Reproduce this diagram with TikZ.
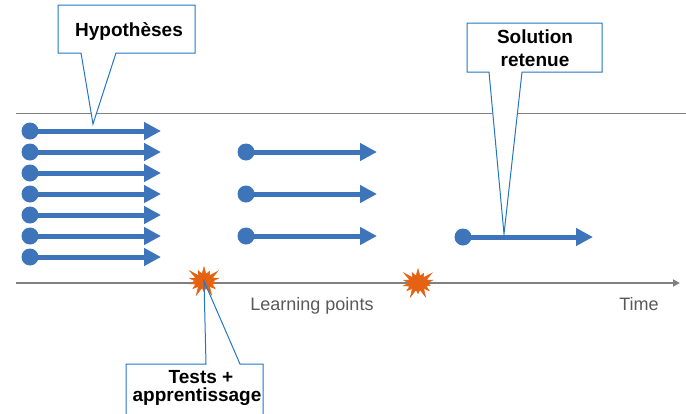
\documentclass[tikz,border=0pt]{standalone}
\usepackage{fontspec}
\setmainfont{Liberation Sans}
\usetikzlibrary{arrows.meta,shapes.symbols}
\definecolor{arrowblue}{RGB}{62,116,186}
\definecolor{callblue}{RGB}{36,118,196}
\definecolor{axisgray}{RGB}{128,128,128}
\definecolor{txtgray}{RGB}{89,89,89}
\definecolor{burst}{RGB}{228,98,18}
\begin{document}
\begin{tikzpicture}[x=1pt,y=-1pt,
  hyp/.style={line width=5pt, arrowblue, -{Triangle[length=17pt,width=17pt]}},
  dotnode/.style={circle, fill=arrowblue, minimum size=17pt, inner sep=0pt},
  calltext/.style={font=\fontsize{19}{23}\selectfont\bfseries, inner sep=0pt, anchor=base},
  callfill/.style={fill=white},
  callline/.style={draw=callblue, line width=1pt, line join=miter},
  burstnode/.style={starburst, fill=burst, draw=burst, line width=0.5pt, minimum width=38pt, minimum height=34pt, starburst points=14, starburst point height=10pt, inner sep=0pt},
  axisline/.style={axisgray, line width=2pt, -{Triangle[length=7pt,width=7pt]}},
  topline/.style={axisgray, line width=1pt},
  graytext/.style={font=\fontsize{18}{22}\selectfont, text=txtgray, inner sep=0pt, anchor=base}
]
\useasboundingbox (0,0) rectangle (686,413);
\clip (0,0) rectangle (686,413);

% top separator line
\coordinate (tl0) at (16,113);
\coordinate (tl1) at (686,113);
\draw[topline] (tl0) -- (tl1);

% time axis
\coordinate (ax0) at (16,283);
\coordinate (ax1) at (680,283);
\draw[axisline] (ax0) -- (ax1);

% column 1 hypotheses
\foreach \yy [count=\i] in {131,152,173,194,215,236,257} {
  \node[dotnode] (a\i) at (30,\yy) {};
  \coordinate (at\i) at (161,\yy);
  \draw[hyp] (a\i.center) -- (at\i);
}
% column 2
\foreach \yy [count=\i] in {152,194,236} {
  \node[dotnode] (b\i) at (246,\yy) {};
  \coordinate (bt\i) at (377,\yy);
  \draw[hyp] (b\i.center) -- (bt\i);
}
% column 3
\node[dotnode] (c1) at (463,237) {};
\coordinate (ct1) at (593,237);
\draw[hyp] (c1.center) -- (ct1);

% callout Hypotheses
\path[callfill, callline] (58,5) -- (195,5) -- (195,53) -- (116,53) -- (93,124) -- (81,53) -- (58,53) -- cycle;
\node[calltext] (hyptxt) at (129,36.5) {Hypothèses};

% callout Solution retenue
\path[callfill, callline] (467,23) -- (602,23) -- (602,72) -- (522,72) -- (504,234) -- (489,72) -- (467,72) -- cycle;
\node[calltext] (sol1) at (535,43) {Solution};
\node[calltext] (sol2) at (535,66) {retenue};

% callout Tests + apprentissage (fill, burst, then outline)
\path[callfill] (126,364) -- (206,364) -- (203,279) -- (240,364) -- (263,364) -- (263,425) -- (126,425) -- cycle;

% starbursts
\node[burstnode] (s1) at (204,281) {};
\node[burstnode] (s2) at (418,283) {};

\path[callline] (126,364) -- (206,364) -- (s1.center) -- (240,364) -- (263,364) -- (263,425) -- (126,425) -- cycle;
\node[calltext] (tst1) at (201,383) {Tests +};
\node[calltext] (tst2) at (197,401) {apprentissage};

% axis labels
\node[graytext] (lp) at (312,310) {Learning points};
\node[graytext] (tm) at (639,310) {Time};
\end{tikzpicture}
\end{document}
